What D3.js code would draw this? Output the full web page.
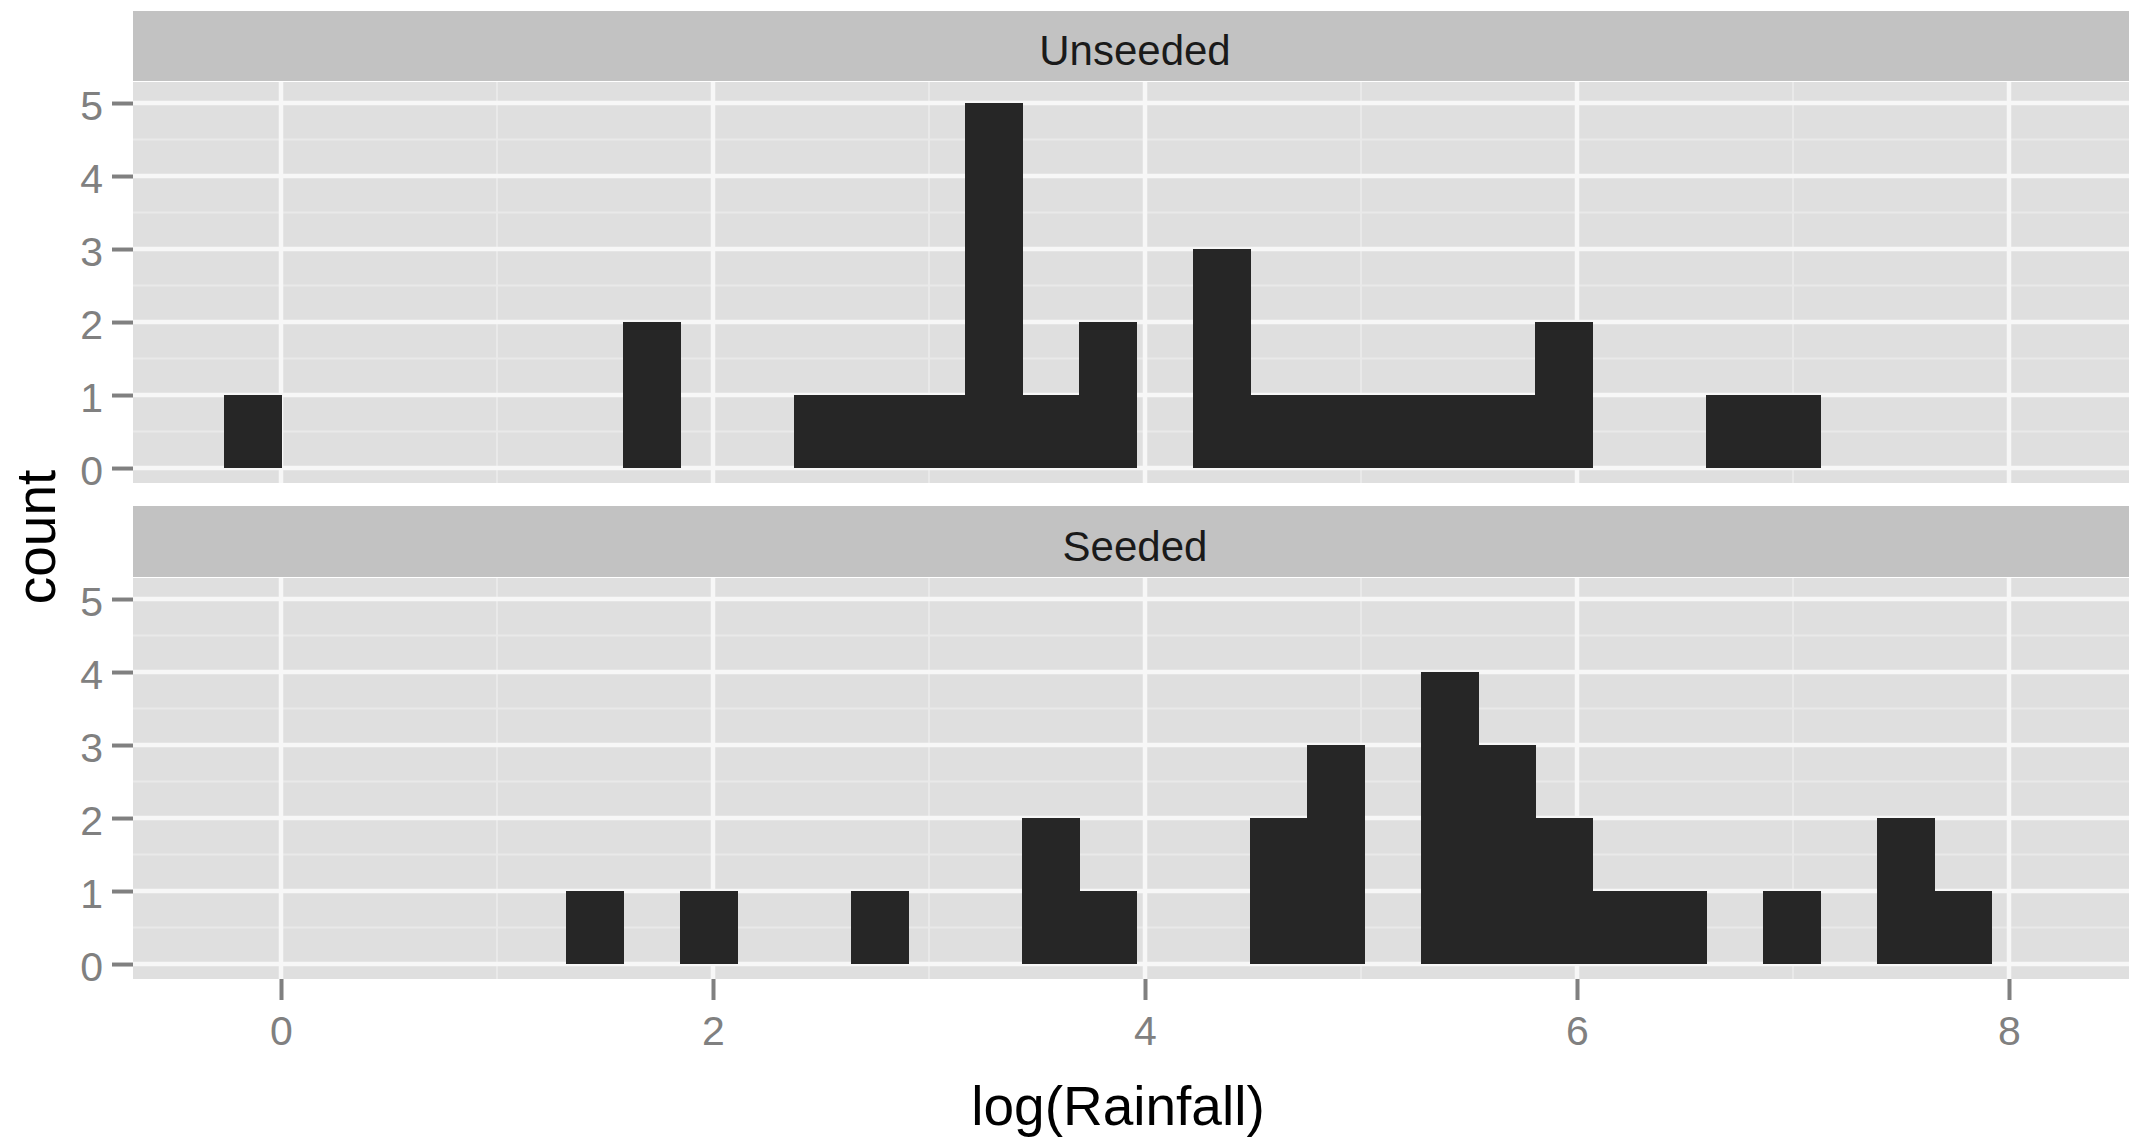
<!DOCTYPE html>
<html>
<head>
<meta charset="utf-8">
<script src="https://cdn.jsdelivr.net/npm/d3@7"></script>
<style>
  html, body { margin: 0; padding: 0; background: #ffffff; }
  svg { display: block; font-family: "Liberation Sans", Arial, Helvetica, sans-serif; }
</style>
</head>
<body>
<svg id="chart" width="2129" height="1140"></svg>
<script>
// ---- data ----
const facets = ["Unseeded", "Seeded"];
const binWidth = 0.2639;
// left edges of histogram bins with their counts
const unseededStarts = [-0.264, 1.583, 2.375, 2.639, 2.903, 3.167, 3.431, 3.694, 4.222, 4.486, 4.750, 5.014, 5.278, 5.542, 5.806, 6.597, 6.861];
const unseededCounts = [1, 2, 1, 1, 1, 5, 1, 2, 3, 1, 1, 1, 1, 1, 2, 1, 1];
const seededStarts = [1.319, 1.847, 2.639, 3.431, 3.694, 4.486, 4.750, 5.278, 5.542, 5.806, 6.069, 6.333, 6.861, 7.389, 7.653];
const seededCounts = [1, 1, 1, 2, 1, 2, 3, 4, 3, 2, 1, 1, 1, 2, 1];
const xTicks = [0, 2, 4, 6, 8];
const xMinor = [1, 3, 5, 7];
const yTicks = [0, 1, 2, 3, 4, 5];
const yMinor = [0.5, 1.5, 2.5, 3.5, 4.5];
const xDomain = [-0.6852, 8.5926];
const yDomain = [-0.205, 5.288];
const xTitle = "log(Rainfall)";
const yTitle = "count";

// ---- layout ----
const panelLeft = 133, panelRight = 2137;
const panels = [
  { name: facets[0], stripTop: 11, stripBottom: 81, top: 82, bottom: 483, starts: unseededStarts, counts: unseededCounts },
  { name: facets[1], stripTop: 506, stripBottom: 577, top: 578, bottom: 979, starts: seededStarts, counts: seededCounts }
];

const svg = d3.select("#chart");
const x = d3.scaleLinear().domain(xDomain).range([panelLeft, panelRight]);

const tickColor = "#808080";
const tickFont = 41;

panels.forEach((p, i) => {
  const y = d3.scaleLinear().domain(yDomain).range([p.bottom, p.top]);
  const g = svg.append("g");

  // strip
  g.append("rect")
    .attr("x", panelLeft).attr("y", p.stripTop)
    .attr("width", panelRight - panelLeft).attr("height", p.stripBottom - p.stripTop)
    .attr("fill", "#c2c2c2");
  g.append("text")
    .attr("x", (panelLeft + panelRight) / 2)
    .attr("y", (p.stripTop + p.stripBottom) / 2 + 19)
    .attr("text-anchor", "middle")
    .attr("font-size", 42)
    .attr("fill", "#1a1a1a")
    .text(p.name);

  // panel background
  g.append("rect")
    .attr("x", panelLeft).attr("y", p.top)
    .attr("width", panelRight - panelLeft).attr("height", p.bottom - p.top)
    .attr("fill", "#dfdfdf");

  // minor gridlines
  g.selectAll(".ymin").data(yMinor).enter().append("line")
    .attr("x1", panelLeft).attr("x2", panelRight)
    .attr("y1", d => y(d)).attr("y2", d => y(d))
    .attr("stroke", "#e9e9e9").attr("stroke-width", 2);
  g.selectAll(".xmin").data(xMinor).enter().append("line")
    .attr("y1", p.top).attr("y2", p.bottom)
    .attr("x1", d => x(d)).attr("x2", d => x(d))
    .attr("stroke", "#e9e9e9").attr("stroke-width", 2);
  // major gridlines
  g.selectAll(".ymaj").data(yTicks).enter().append("line")
    .attr("x1", panelLeft).attr("x2", panelRight)
    .attr("y1", d => y(d)).attr("y2", d => y(d))
    .attr("stroke", "#f7f7f7").attr("stroke-width", 4.5);
  g.selectAll(".xmaj").data(xTicks).enter().append("line")
    .attr("y1", p.top).attr("y2", p.bottom)
    .attr("x1", d => x(d)).attr("x2", d => x(d))
    .attr("stroke", "#f7f7f7").attr("stroke-width", 4.5);

  // bars
  const bins = p.starts.map((s, k) => ({ x0: s, x1: s + binWidth, n: p.counts[k] }));
  g.selectAll(".bar").data(bins).enter().append("rect")
    .attr("x", d => Math.round(x(d.x0)))
    .attr("width", d => Math.round(x(d.x1)) - Math.round(x(d.x0)) + 1)
    .attr("y", d => Math.round(y(d.n)))
    .attr("height", d => Math.round(y(0)) - Math.round(y(d.n)))
    .attr("shape-rendering", "crispEdges")
    .attr("fill", "#262626");

  // y axis
  const ya = g.append("g")
    .attr("transform", `translate(${panelLeft},0)`)
    .call(d3.axisLeft(y).tickValues(yTicks).tickSize(21).tickPadding(9).tickFormat(d3.format("d")));
  ya.select(".domain").remove();
  ya.selectAll(".tick line").attr("stroke", tickColor).attr("stroke-width", 4);
  ya.selectAll(".tick text").attr("fill", tickColor).attr("font-size", tickFont)
    .attr("font-family", "'Liberation Sans', Arial, sans-serif").attr("dy", "0.40em");

  // x axis only on bottom panel
  if (i === panels.length - 1) {
    const xa = g.append("g")
      .attr("transform", `translate(0,${p.bottom})`)
      .call(d3.axisBottom(x).tickValues(xTicks).tickSize(21).tickPadding(16).tickFormat(d3.format("d")));
    xa.select(".domain").remove();
    xa.selectAll(".tick line").attr("stroke", tickColor).attr("stroke-width", 4);
    xa.selectAll(".tick text").attr("fill", tickColor).attr("font-size", tickFont)
      .attr("font-family", "'Liberation Sans', Arial, sans-serif");
  }
});

// axis titles
svg.append("text")
  .attr("x", 1118).attr("y", 1125)
  .attr("text-anchor", "middle")
  .attr("font-size", 55)
  .attr("fill", "#000")
  .text(xTitle);
svg.append("text")
  .attr("transform", "translate(55,537) rotate(-90)")
  .attr("text-anchor", "middle")
  .attr("font-size", 55)
  .attr("fill", "#000")
  .text(yTitle);
</script>
</body>
</html>
